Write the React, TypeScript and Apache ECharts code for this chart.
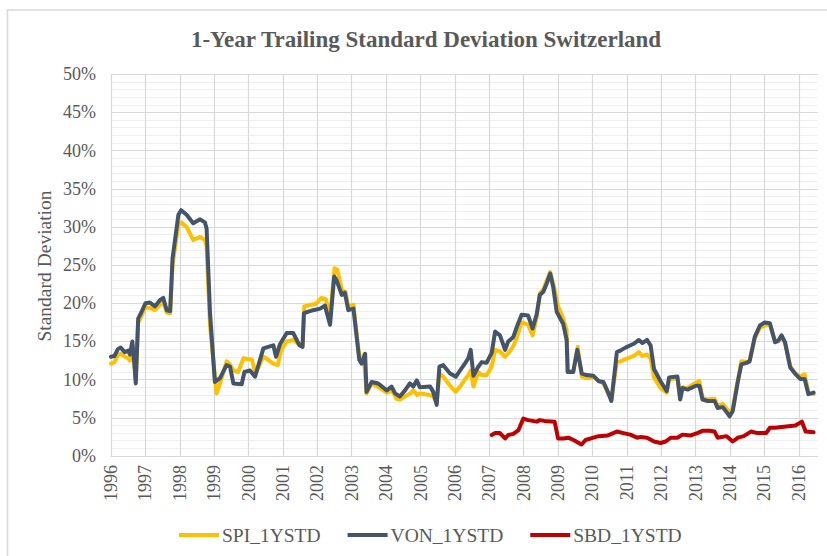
import React, { useEffect, useRef } from "react";
import * as echarts from "echarts";

const TITLE = "1-Year Trailing Standard Deviation Switzerland";
const Y_NAME = "Standard Deviation";
const SERIES_NAMES = ["SPI_1YSTD", "VON_1YSTD", "SBD_1YSTD"];
const COLORS = ["#ffc000", "#44546a", "#c00000"];

const vonX = [1996.0, 1996.1, 1996.2, 1996.28, 1996.4, 1996.5, 1996.55, 1996.62, 1996.68, 1996.72, 1996.79, 1996.88, 1997.0, 1997.13, 1997.28, 1997.42, 1997.52, 1997.62, 1997.72, 1997.79, 1997.96, 1998.04, 1998.2, 1998.39, 1998.59, 1998.73, 1998.78, 1998.88, 1999.02, 1999.17, 1999.36, 1999.46, 1999.56, 1999.8, 1999.88, 2000.04, 2000.19, 2000.43, 2000.57, 2000.72, 2000.8, 2000.91, 2001.11, 2001.3, 2001.48, 2001.57, 2001.61, 2001.74, 2001.88, 2002.08, 2002.22, 2002.37, 2002.49, 2002.56, 2002.71, 2002.8, 2002.9, 2003.05, 2003.22, 2003.29, 2003.39, 2003.43, 2003.58, 2003.77, 2004.02, 2004.16, 2004.26, 2004.4, 2004.55, 2004.69, 2004.79, 2004.89, 2004.98, 2005.28, 2005.37, 2005.47, 2005.55, 2005.66, 2005.86, 2006.03, 2006.15, 2006.29, 2006.39, 2006.46, 2006.54, 2006.68, 2006.78, 2006.92, 2007.07, 2007.17, 2007.31, 2007.46, 2007.55, 2007.7, 2007.8, 2007.94, 2008.13, 2008.26, 2008.38, 2008.47, 2008.57, 2008.67, 2008.77, 2008.86, 2008.96, 2009.15, 2009.25, 2009.28, 2009.44, 2009.56, 2009.69, 2009.83, 2010.03, 2010.18, 2010.32, 2010.42, 2010.55, 2010.71, 2010.81, 2010.96, 2011.2, 2011.35, 2011.45, 2011.59, 2011.69, 2011.79, 2011.98, 2012.16, 2012.23, 2012.47, 2012.55, 2012.62, 2012.77, 2012.86, 2013.01, 2013.11, 2013.2, 2013.35, 2013.55, 2013.64, 2013.79, 2013.99, 2014.08, 2014.23, 2014.33, 2014.48, 2014.57, 2014.72, 2014.87, 2015.01, 2015.16, 2015.31, 2015.4, 2015.5, 2015.6, 2015.75, 2015.89, 2016.04, 2016.17, 2016.28, 2016.43];
const vonY = [13.0, 13.1, 14.0, 14.2, 13.6, 13.8, 13.3, 15.0, 12.0, 9.5, 18.0, 18.8, 20.0, 20.1, 19.6, 20.4, 20.7, 19.1, 19.0, 25.9, 31.6, 32.2, 31.6, 30.5, 31.0, 30.6, 29.8, 18.7, 9.7, 10.2, 11.9, 11.7, 9.5, 9.4, 11.0, 11.2, 10.4, 14.1, 14.3, 14.5, 13.0, 14.6, 16.1, 16.1, 14.5, 14.3, 18.7, 18.9, 19.1, 19.3, 19.7, 17.2, 23.5, 23.0, 21.1, 21.4, 19.1, 19.3, 12.6, 12.1, 13.4, 8.4, 9.7, 9.5, 8.6, 9.1, 8.2, 7.8, 8.6, 9.5, 9.1, 9.9, 9.0, 9.1, 8.4, 6.7, 11.7, 11.9, 10.8, 10.4, 11.2, 12.1, 12.8, 13.9, 10.5, 11.7, 12.3, 12.2, 13.5, 16.3, 15.8, 13.9, 15.0, 15.6, 16.9, 18.5, 18.4, 16.7, 18.6, 21.1, 21.5, 22.6, 23.9, 22.1, 18.9, 17.3, 15.2, 11.0, 11.0, 13.9, 10.8, 10.6, 10.5, 9.8, 9.7, 8.7, 7.2, 13.6, 13.8, 14.2, 14.7, 15.2, 14.8, 15.2, 14.5, 11.4, 9.8, 8.5, 10.3, 10.4, 7.4, 8.9, 8.7, 8.9, 9.2, 9.2, 7.4, 7.2, 7.2, 6.3, 6.4, 5.2, 5.9, 9.8, 12.0, 12.2, 12.4, 15.6, 17.1, 17.5, 17.4, 14.9, 15.1, 15.8, 14.9, 11.6, 10.8, 10.1, 10.1, 8.1, 8.3];

const spiX = [1996.0, 1996.1, 1996.2, 1996.28, 1996.4, 1996.5, 1996.55, 1996.62, 1996.68, 1996.72, 1996.79, 1996.88, 1997.0, 1997.13, 1997.28, 1997.42, 1997.52, 1997.62, 1997.72, 1997.79, 1997.96, 1998.04, 1998.2, 1998.39, 1998.59, 1998.73, 1998.78, 1998.88, 1999.07, 1999.17, 1999.36, 1999.46, 1999.56, 1999.7, 1999.85, 2000.1, 2000.2, 2000.43, 2000.57, 2000.72, 2000.85, 2000.95, 2001.11, 2001.3, 2001.48, 2001.57, 2001.62, 2001.8, 2001.95, 2002.12, 2002.25, 2002.37, 2002.5, 2002.58, 2002.72, 2002.82, 2002.9, 2003.05, 2003.22, 2003.3, 2003.35, 2003.43, 2003.58, 2003.78, 2004.02, 2004.17, 2004.3, 2004.4, 2004.55, 2004.7, 2004.8, 2004.9, 2005.0, 2005.28, 2005.37, 2005.47, 2005.55, 2005.66, 2005.86, 2006.02, 2006.15, 2006.29, 2006.39, 2006.46, 2006.54, 2006.68, 2006.78, 2006.92, 2007.07, 2007.17, 2007.31, 2007.46, 2007.56, 2007.7, 2007.8, 2007.94, 2008.13, 2008.26, 2008.38, 2008.47, 2008.57, 2008.67, 2008.77, 2008.86, 2009.0, 2009.15, 2009.25, 2009.28, 2009.45, 2009.57, 2009.69, 2009.83, 2010.03, 2010.18, 2010.32, 2010.42, 2010.55, 2010.71, 2010.81, 2010.96, 2011.2, 2011.35, 2011.45, 2011.59, 2011.69, 2011.79, 2011.98, 2012.16, 2012.23, 2012.47, 2012.55, 2012.62, 2012.77, 2012.86, 2013.01, 2013.11, 2013.2, 2013.35, 2013.55, 2013.64, 2013.79, 2013.99, 2014.08, 2014.23, 2014.33, 2014.48, 2014.57, 2014.72, 2014.87, 2015.01, 2015.16, 2015.31, 2015.4, 2015.5, 2015.6, 2015.75, 2015.89, 2016.04, 2016.17, 2016.28, 2016.43];
const spiY = [12.1, 12.3, 13.2, 13.4, 13.0, 12.8, 12.5, 14.5, 12.0, 10.0, 17.5, 18.3, 19.5, 19.4, 19.1, 19.8, 20.2, 18.8, 18.7, 25.0, 30.3, 30.6, 30.0, 28.3, 28.7, 28.3, 27.5, 17.0, 8.2, 9.5, 12.4, 12.0, 11.2, 11.0, 12.8, 12.6, 10.8, 13.0, 12.6, 12.1, 11.9, 13.9, 15.0, 15.2, 14.6, 14.4, 19.6, 19.8, 19.9, 20.7, 20.5, 18.3, 24.6, 24.4, 21.7, 21.5, 19.5, 19.8, 13.0, 12.4, 13.2, 8.2, 9.5, 9.0, 8.3, 8.6, 7.5, 7.4, 7.8, 8.2, 8.6, 8.0, 8.2, 8.0, 7.8, 7.0, 10.8, 10.4, 9.2, 8.4, 9.1, 10.0, 10.6, 11.2, 9.1, 11.0, 10.6, 10.6, 11.7, 13.9, 13.7, 13.0, 13.5, 14.4, 15.5, 17.5, 17.2, 15.8, 18.2, 21.3, 21.8, 23.0, 24.1, 22.6, 19.6, 18.0, 16.5, 11.0, 11.2, 14.3, 10.4, 10.2, 10.3, 9.9, 9.5, 8.5, 7.4, 12.3, 12.4, 12.7, 13.1, 13.6, 13.1, 13.3, 12.8, 10.3, 8.9, 8.3, 10.0, 10.2, 7.8, 9.0, 8.9, 9.2, 9.6, 9.8, 7.6, 7.4, 7.5, 6.6, 6.8, 5.7, 6.2, 10.0, 12.4, 12.3, 12.5, 15.4, 16.8, 17.1, 17.2, 15.0, 15.0, 15.6, 14.8, 11.8, 10.9, 10.4, 10.7, 8.3, 8.1];

const sbdX = [2007.07, 2007.17, 2007.31, 2007.46, 2007.55, 2007.7, 2007.85, 2007.99, 2008.13, 2008.38, 2008.47, 2008.6, 2008.9, 2009.0, 2009.15, 2009.3, 2009.45, 2009.68, 2009.8, 2010.03, 2010.18, 2010.45, 2010.71, 2010.9, 2011.1, 2011.3, 2011.4, 2011.59, 2011.79, 2011.98, 2012.13, 2012.28, 2012.47, 2012.62, 2012.86, 2013.05, 2013.2, 2013.4, 2013.55, 2013.64, 2013.9, 2014.08, 2014.23, 2014.4, 2014.61, 2014.8, 2015.05, 2015.16, 2015.31, 2015.5, 2015.7, 2015.9, 2016.09, 2016.2, 2016.43];
const sbdY = [2.75, 3.0, 3.0, 2.3, 2.75, 2.9, 3.4, 4.9, 4.7, 4.5, 4.7, 4.6, 4.5, 2.3, 2.3, 2.4, 2.1, 1.5, 2.1, 2.4, 2.6, 2.7, 3.2, 3.0, 2.8, 2.4, 2.5, 2.4, 1.9, 1.7, 1.9, 2.4, 2.4, 2.8, 2.7, 3.0, 3.3, 3.3, 3.2, 2.4, 2.6, 1.9, 2.4, 2.6, 3.2, 3.0, 3.0, 3.7, 3.7, 3.8, 3.9, 4.0, 4.5, 3.2, 3.1];

const X_MIN = 1996;
const X_MAX = 2016.55;
const Y_MAX = 50;

const zip = (xs: number[], ys: number[]) => xs.map((x, i) => [x, ys[i]]);

const FONT = "'Liberation Serif', 'Times New Roman', serif";
const TEXT = "#595959";

export default function App() {
  const ref = useRef<HTMLDivElement>(null);
  useEffect(() => {
    if (!ref.current) return;
    const chart = echarts.init(ref.current, null, { renderer: "svg" });
    const seriesData = [zip(spiX, spiY), zip(vonX, vonY), zip(sbdX, sbdY)];
    chart.setOption({
      animation: false,
      backgroundColor: "#ffffff",
      graphic: [
        {
          type: "rect",
          shape: { x: 7.5, y: 10, width: 900, height: 700 },
          style: { fill: "none", stroke: "#d9d9d9", lineWidth: 1.5 },
          silent: true,
        },
        {
          type: "text",
          x: 426,
          y: 39,
          style: {
            text: TITLE,
            font: `bold 23px ${FONT}`,
            fill: TEXT,
            textAlign: "center",
            textVerticalAlign: "middle",
          },
        },
        {
          type: "text",
          x: 44,
          y: 266,
          rotation: Math.PI / 2,
          style: {
            text: Y_NAME,
            font: `19.5px ${FONT}`,
            fill: TEXT,
            textAlign: "center",
            textVerticalAlign: "middle",
          },
        },
      ],
      legend: {
        left: 179,
        top: 525,
        itemWidth: 40,
        itemHeight: 4,
        itemGap: 27,
        icon: "rect",
        padding: 0,
        textStyle: { fontFamily: FONT, fontSize: 19.5, color: TEXT, padding: [0, 0, 0, -2] },
        data: SERIES_NAMES,
      },
      grid: { left: 111, right: 9.3, top: 74.3, bottom: 100, containLabel: false },
      xAxis: {
        type: "value",
        min: X_MIN,
        max: X_MAX,
        interval: 1,
        axisLine: { show: true, lineStyle: { color: "#d9d9d9", width: 1 } },
        axisTick: { show: false },
        minorTick: { show: false },
        minorSplitLine: { show: false },
        splitLine: { show: true, showMaxLine: false, lineStyle: { color: "#d9d9d9", width: 1.2 } },
        axisLabel: {
          rotate: 90,
          margin: 9,
          fontFamily: FONT,
          fontSize: 18,
          color: TEXT,
          showMaxLabel: false,
          formatter: (v: number) => (Number.isInteger(v) ? String(v) : ""),
        },
      },
      yAxis: {
        type: "value",
        min: 0,
        max: Y_MAX,
        interval: 5,
        axisLine: { show: false },
        axisTick: { show: false },
        splitLine: { show: true, lineStyle: { color: "#d9d9d9", width: 1.2 } },
        minorTick: { show: false, splitNumber: 5 },
        minorSplitLine: { show: true, lineStyle: { color: "#efefef", width: 1 } },
        axisLabel: {
          margin: 15,
          fontFamily: FONT,
          fontSize: 18,
          color: TEXT,
          formatter: "{value}%",
        },
      },
      series: SERIES_NAMES.map((name, i) => ({
        name,
        type: "line",
        data: seriesData[i],
        showSymbol: false,
        symbol: "none",
        z: 2 + i,
        lineStyle: { color: COLORS[i], width: 4, join: "round", cap: "round" },
        itemStyle: { color: COLORS[i] },
      })),
    });
    return () => chart.dispose();
  }, []);
  return (
    <div
      ref={ref}
      style={{ position: "absolute", left: 0, top: 0, width: 827, height: 556 }}
    />
  );
}
